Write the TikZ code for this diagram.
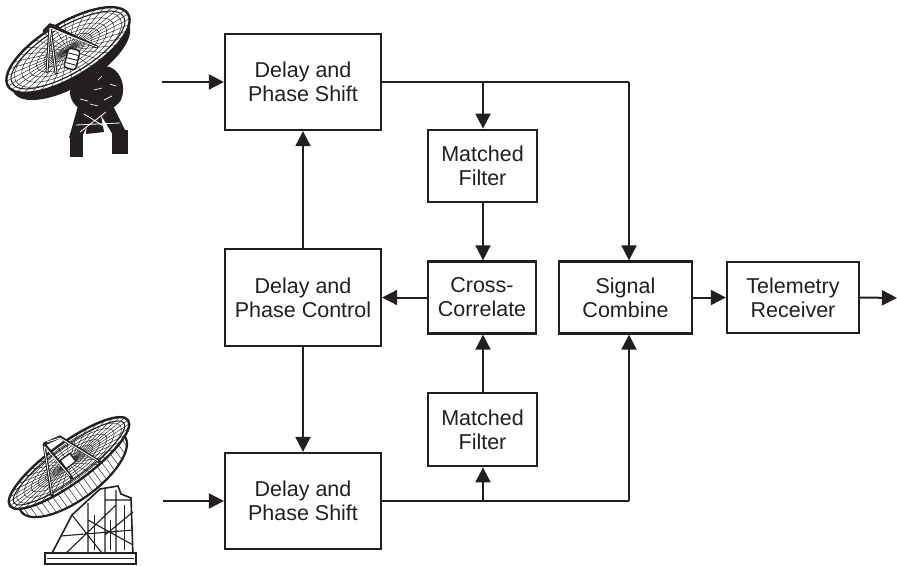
\documentclass[tikz,border=0pt]{standalone}
\usepackage{fontspec}
\setmainfont{Liberation Sans}
\usetikzlibrary{arrows.meta}
\definecolor{ink}{HTML}{231F20}
\begin{document}
\begin{tikzpicture}[x=1pt,y=-1pt,
  box/.style={draw=ink, line width=2.3pt, inner sep=0pt, align=center, text=ink,
    font=\fontsize{21.5}{24}\selectfont},
  mfbox/.style={box, line width=2.8pt},
  wire/.style={draw=ink, line width=2pt},
  conn/.style={wire, -{Triangle[length=15pt,width=15pt]}},
  hatch/.style={draw=ink, line width=0.45pt},
  strut/.style={draw=ink, line width=3pt, line cap=round},
  strutin/.style={draw=white, line width=0.9pt},
]
\useasboundingbox (0,0) rectangle (897,565);

% ---------------- top antenna ----------------
% body and pedestal
\fill[ink] (70,92) .. controls (72,78) and (90,66) .. (106,66) .. controls (120,68) and (127,86) .. (121,100)
  .. controls (115,110) and (100,114) .. (88,112) .. controls (78,110) and (70,102) .. (70,92) -- cycle;
\fill[ink] (78,106) -- (94,110) -- (82,137) -- (69,138) -- cycle;
\fill[ink] (98,110) -- (112,104) -- (127,134) -- (113,135) -- cycle;
\fill[ink] (88,110) -- (100,110) -- (104,132) -- (86,134) -- cycle;
\draw[white, line width=0.8pt] (84,114) -- (110,130) (106,112) -- (80,132) (76,125) -- (120,123);
\draw[white, line width=0.7pt] (94,90) -- (102,88) (80,99) -- (88,101) (104,100) -- (112,96) (90,104) -- (98,106)
  (110,84) -- (116,86) (98,80) -- (102,76);
\fill[ink] (70,133) rectangle (83,157);
\fill[ink] (112,130) rectangle (128,154);
% dish back
\fill[ink, rotate around={31:(71,58)}] (71,58) ellipse [x radius=67, y radius=28];
% dish rim with mesh
\begin{scope}[rotate around={31:(68,50)}]
  \fill[white] (68,50) ellipse [x radius=70, y radius=27];
  \begin{scope}
    \clip (68,50) ellipse [x radius=70, y radius=27];
    \foreach \s in {0.15,0.27,0.39,0.51,0.63,0.75,0.87}
      \draw[hatch] (68,50) ellipse [x radius={70*\s}, y radius={27*\s}];
    \foreach \a in {0,10,...,350}
      \draw[hatch] (68,50) -- +({72*cos(\a)},{29*sin(\a)});
  \end{scope}
  \draw[ink, line width=1pt] (68,50) ellipse [x radius=65, y radius=23];
  \draw[ink, line width=2.4pt] (68,50) ellipse [x radius=70, y radius=27];
\end{scope}
% quadrupod
\foreach \p in {(47,72),(56,73),(97,47)}
  \draw[strut] (50,25) -- \p;
\foreach \p in {(47,72),(56,73),(97,47)}
  \draw[strutin] (50,28) -- \p;
\draw[strut] (44,31) -- (50,25) -- (58,27);
% feed
\filldraw[fill=white, draw=ink, line width=1.4pt, rotate around={-15:(72,59)}, rounded corners=3pt]
  (66,49) rectangle (78,69);
\draw[ink, line width=0.9pt, rotate around={-15:(72,59)}]
  (67,54) -- (77,54) (67,59) -- (77,59) (67,64) -- (77,64);

% ---------------- bottom antenna ----------------
% tower
\filldraw[fill=white, draw=ink, line width=1.6pt]
  (100,489) -- (118,486) -- (121,494) -- (131,498) -- (133,557) -- (50,557) -- (72,515) -- cycle;
\draw[ink, line width=1.1pt] (88,503) -- (88,557) (105,489) -- (105,557) (116,490) -- (116,557)
  (72,515) -- (105,557) (116,505) -- (62,557) (88,520) -- (133,545) (133,512) -- (105,535)
  (61,536) -- (133,530) (105,500) -- (131,500);
\draw[ink, line width=0.6pt] (124,505) -- (124,550) (110,520) -- (110,550) (94,515) -- (94,550);
\filldraw[fill=white, draw=ink, line width=1.5pt] (45,553) rectangle (136,564);
\draw[ink, line width=0.7pt] (47,558.5) -- (134,558.5);
% dish back (bowl)
\begin{scope}[rotate around={36:(73,474)}]
  \fill[white] (73,474) ellipse [x radius=64, y radius=26];
  \begin{scope}
    \clip (73,474) ellipse [x radius=64, y radius=26];
    \foreach \t in {-60,-54,...,60}
      \draw[hatch] (73+\t,440) -- (73+\t,510);
  \end{scope}
  \draw[ink, line width=2.2pt] (73,474) ellipse [x radius=64, y radius=26];
\end{scope}
% dish rim with mesh
\begin{scope}[rotate around={36:(69,463)}]
  \fill[white] (69,463) ellipse [x radius=73, y radius=20];
  \begin{scope}
    \clip (69,463) ellipse [x radius=73, y radius=20];
    \foreach \s in {0.15,0.27,0.39,0.51,0.63,0.75,0.87}
      \draw[hatch] (69,463) ellipse [x radius={73*\s}, y radius={20*\s}];
    \foreach \a in {0,10,...,350}
      \draw[hatch] (69,463) -- +({75*cos(\a)},{22*sin(\a)});
  \end{scope}
  \draw[ink, line width=1pt] (69,463) ellipse [x radius=68, y radius=16];
  \draw[ink, line width=2.4pt] (69,463) ellipse [x radius=73, y radius=20];
\end{scope}
% quadrupod
\draw[strut] (44,444) -- (52,496) (44,444) -- (72,478) (44,444) -- (60,437) -- (100,462);
\draw[strutin] (44,446) -- (52,494) (45,447) -- (70,476) (47,442) -- (60,438) -- (98,461);
\filldraw[fill=white, draw=ink, line width=1.2pt, rotate around={36:(68,461)}] (62,456) rectangle (74,466);

% ---------------- blocks ----------------
\node[box, minimum width=156pt, minimum height=96pt] (dps1) at (303,82) {Delay and\\Phase Shift};
\node[box, minimum width=156pt, minimum height=97pt] (dpc) at (303,297.5) {Delay and\\Phase Control};
\node[box, minimum width=156pt, minimum height=96pt] (dps2) at (303,501) {Delay and\\Phase Shift};
\node[mfbox, minimum width=109pt, minimum height=72pt] (mf1) at (482.5,166) {Matched\\Filter};
\node[box, minimum width=108pt, minimum height=72pt] (cc) at (482,297.5) {Cross-\\Correlate};
\node[mfbox, minimum width=109pt, minimum height=73pt] (mf2) at (482.5,429.5) {Matched\\Filter};
\node[box, minimum width=133pt, minimum height=72pt] (sc) at (625.5,297.5) {Signal\\Combine};
\node[box, minimum width=132pt, minimum height=71pt] (tr) at (793,297.5) {Telemetry\\Receiver};

% ---------------- connectors ----------------
\coordinate (in1) at (162,82);
\coordinate (in2) at (163,501);
\coordinate (j1) at (629,82);
\coordinate (j2) at (629,501);
\coordinate (b1) at (483,82);
\coordinate (b2) at (483,501);
\coordinate (out) at (897,298);

\draw[conn] (in1) -- (dps1.west);
\draw[wire] (dps1.east) -- (j1);
\draw[conn] (j1) -- (j1 |- sc.north);
\draw[conn] (b1) -- (b1 |- mf1.north);
\draw[conn] (b1 |- mf1.south) -- (b1 |- cc.north);
\draw[conn] (cc.west) -- (dpc.east);
\draw[conn] (dpc.north) -- (dps1.south);
\draw[conn] (dpc.south) -- (dps2.north);
\draw[conn] (in2) -- (dps2.west);
\draw[wire] (dps2.east) -- (j2);
\draw[conn] (j2) -- (j2 |- sc.south);
\draw[conn] (b2) -- (b2 |- mf2.south);
\draw[conn] (b2 |- mf2.north) -- (b2 |- cc.south);
\draw[conn] (sc.east) -- (tr.west);
\draw[conn] (tr.east) -- (out);
\end{tikzpicture}
\end{document}
